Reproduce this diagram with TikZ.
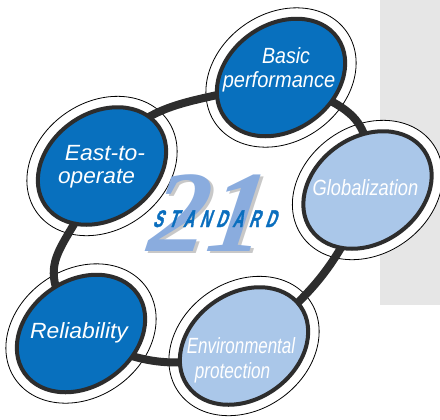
\documentclass[tikz,border=0pt]{standalone}
\usepackage{fontspec}
\setmainfont{Liberation Sans}
\newfontfamily\numfont{Liberation Serif}
\newfontfamily\stdfont{Liberation Sans}[BoldFeatures={FakeBold=2}]
\usetikzlibrary{shapes.geometric}
\definecolor{darkblue}{RGB}{8,112,190}
\definecolor{lightblue}{RGB}{170,199,233}
\definecolor{ringcol}{RGB}{45,45,45}
\definecolor{graybg}{RGB}{230,230,230}
\definecolor{numblue}{RGB}{138,172,222}
\definecolor{shadowgray}{RGB}{200,200,200}
\definecolor{stdblue}{RGB}{10,110,190}
\newcommand\stdgap{\hspace{10bp}}
\tikzset{
  outerell/.style={ellipse, draw=black, line width=0.8bp, fill=white,
    minimum width=160bp, minimum height=128bp, inner sep=0pt, outer sep=0pt, rotate=35},
  innerell/.style={ellipse, draw=ringcol, line width=4bp,
    minimum width=138bp, minimum height=106bp, inner sep=0pt, outer sep=0pt, rotate=35},
  darkfill/.style={fill=darkblue},
  lightfill/.style={fill=lightblue},
  ringline/.style={draw=ringcol, line width=8bp},
  lbl/.style={text=white, anchor=base, inner sep=0pt,
    font=\itshape\fontsize{22bp}{24bp}\selectfont},
  numtext/.style={anchor=base, inner sep=0pt, xslant=0.15,
    font=\numfont\bfseries\itshape\fontsize{116bp}{116bp}\selectfont},
}
\begin{document}
\begin{tikzpicture}[x=1bp,y=1bp]
\useasboundingbox (0,0) rectangle (440,419);
\fill[graybg] (380,114) rectangle (440,419);
% outer rings
\node[outerell] (basicO) at (281,341.5) {};
\node[outerell] (globO) at (367.5,229) {};
\node[outerell] (eastO) at (102,253) {};
\node[outerell] (relO) at (81,85.5) {};
\node[outerell] (envO) at (244,73) {};
% connecting ring
\draw[ringline] (eastO.center) to[out=60,in=200,looseness=1.1] (basicO.center);
\draw[ringline] (basicO.center) to[out=-25,in=85,looseness=1.4] (globO.center);
\draw[ringline] (globO.center) to[out=250,in=35] (envO.center);
\draw[ringline] (envO.center) to[out=205,in=-30] (relO.center);
\draw[ringline] (relO.center) to[out=125,in=250,looseness=1.5] (eastO.center);
% inner ellipses
\node[innerell,darkfill] (basic) at (basicO.center) {};
\node[innerell,lightfill] (glob) at (globO.center) {};
\node[innerell,darkfill] (east) at (eastO.center) {};
\node[innerell,darkfill] (rel) at (relO.center) {};
\node[innerell,lightfill] (env) at (envO.center) {};
% labels
\node[lbl] (basicA) at (286,356) {\scalebox{0.89}[1]{Basic}};
\node[lbl] (basicB) at (279,332) {\scalebox{0.91}[1]{performance}};
\node[lbl] (globA) at (365.5,224) {\scalebox{0.83}[1]{Globalization}};
\node[lbl] (eastA) at (105,259) {\scalebox{1.04}[1]{East-to-}};
\node[lbl] (eastB) at (96.5,236) {\scalebox{1.03}[1]{operate}};
\node[lbl] (relA) at (79,81) {\scalebox{1.04}[1]{Reliability}};
\node[lbl] (envA) at (241,66) {\scalebox{0.77}[1]{Environmental}};
\node[lbl] (envB) at (232.5,41) {\scalebox{0.78}[1]{protection}};
% logo
\node[numtext, text=shadowgray] (numS) at (207.5,166) {21};
\node[numtext, text=numblue] (num) at (204.5,168) {21};
\node[text=stdblue, anchor=base, inner sep=0pt, xslant=0.35,
  font=\stdfont\bfseries\fontsize{24bp}{24bp}\selectfont] (std) at (214,192)
  {\scalebox{0.6}[1]{S\stdgap T\stdgap A\stdgap N\stdgap D\stdgap A\stdgap R\stdgap D}};
\end{tikzpicture}
\end{document}
